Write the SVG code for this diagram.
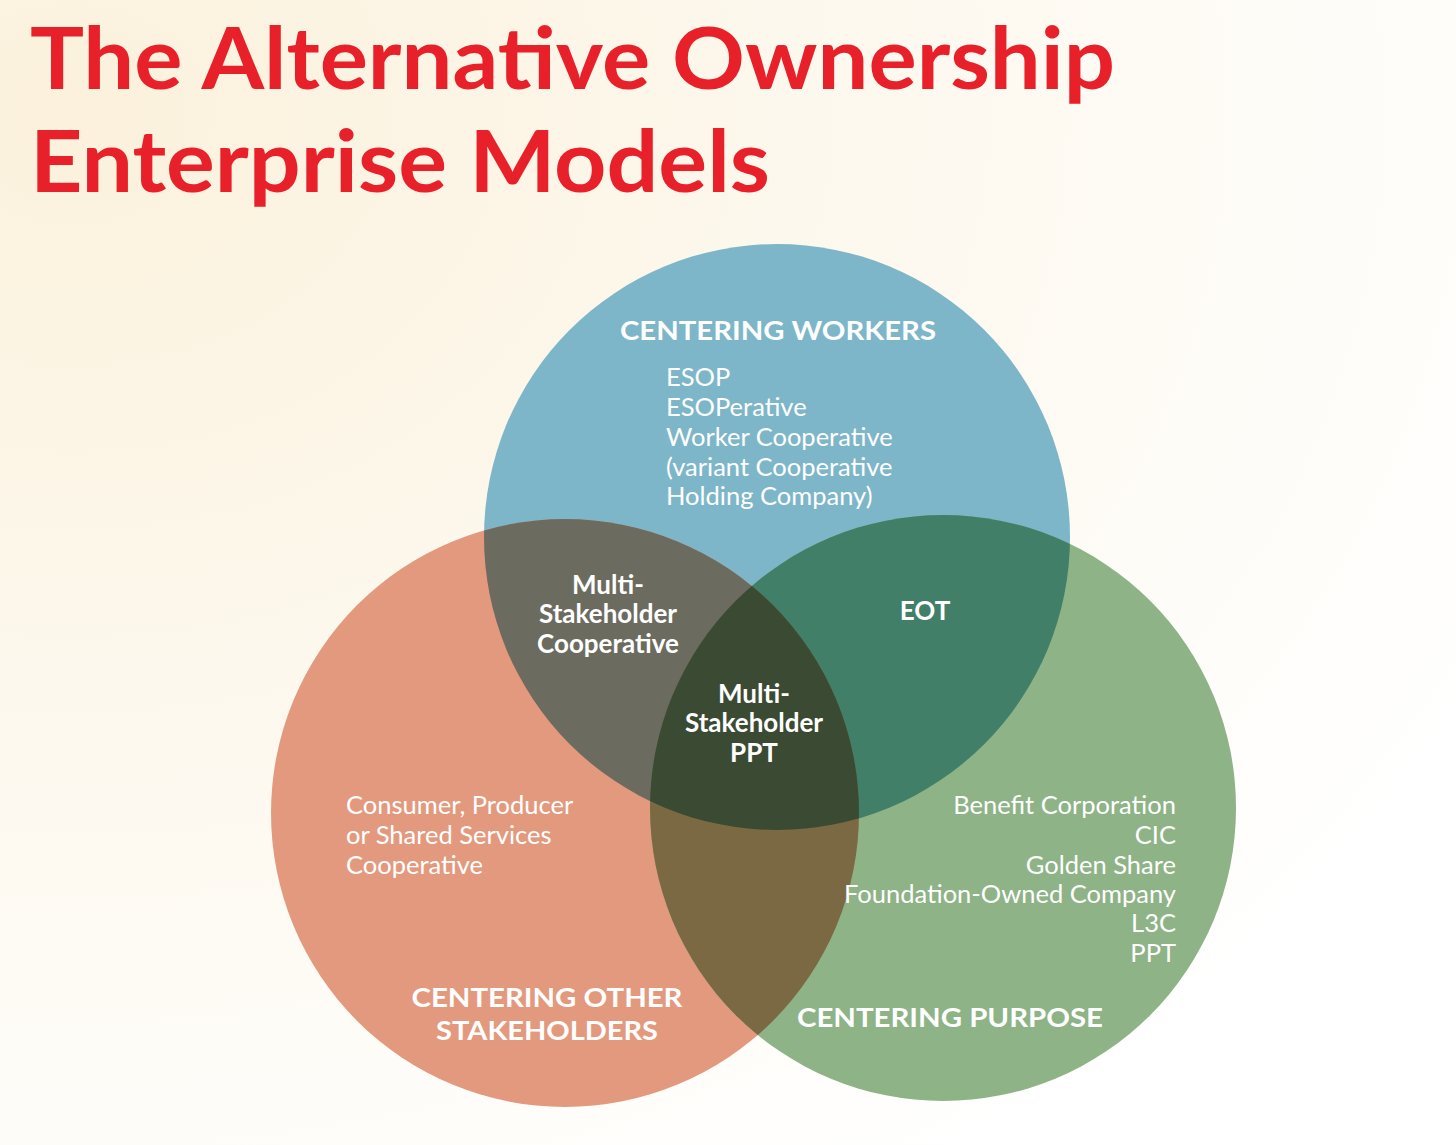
<svg xmlns="http://www.w3.org/2000/svg" width="1456" height="1145" viewBox="0 0 1456 1145">
<defs>
<radialGradient id="bg" cx="0.05" cy="0.1" r="1.1">
<stop offset="0" stop-color="#fbf1dc"/>
<stop offset="0.45" stop-color="#fdf8ed"/>
<stop offset="1" stop-color="#ffffff"/>
</radialGradient>
<clipPath id="cB"><circle cx="777" cy="537" r="293"/></clipPath>
<clipPath id="cO"><circle cx="565" cy="813" r="294"/></clipPath>
<clipPath id="cG"><circle cx="943" cy="808" r="293"/></clipPath>
<style>
.title{font-family:Lato,"Noto Sans",sans-serif;font-weight:bold;font-size:86px;fill:#e8202a}
.hd{font-family:Lato,"Noto Sans",sans-serif;font-weight:bold;font-size:27px;fill:#ffffff}
.it{font-family:Lato,"Noto Sans",sans-serif;font-size:25.5px;fill:#ffffff}
.ib{font-family:Lato,"Noto Sans",sans-serif;font-weight:bold;font-size:26px;fill:#ffffff}
.mid{text-anchor:middle}
.end{text-anchor:end}
</style>
</defs>
<rect width="1456" height="1145" fill="url(#bg)"/>
<g id="title">
<text class="title" x="30" y="89" textLength="1085" lengthAdjust="spacingAndGlyphs">The Alternative Ownership</text>
<text class="title" x="30" y="192" textLength="740" lengthAdjust="spacingAndGlyphs">Enterprise Models</text>
</g>
<g id="circles">
<circle id="workers" cx="777" cy="537" r="293" fill="#7db6c8"/>
<circle id="others" cx="565" cy="813" r="294" fill="#e3997e"/>
<circle id="purpose" cx="943" cy="808" r="293" fill="#8db386"/>
<g clip-path="url(#cB)">
<circle cx="565" cy="813" r="294" fill="#6c6b5f"/>
<circle cx="943" cy="808" r="293" fill="#427f68"/>
</g>
<g clip-path="url(#cO)">
<circle cx="943" cy="808" r="293" fill="#7b6943"/>
</g>
<g clip-path="url(#cO)">
<g clip-path="url(#cG)">
<circle cx="777" cy="537" r="293" fill="#3b4a33"/>
</g>
</g>
</g>
<g id="workers-text">
<text class="hd mid" x="778" y="340" textLength="316" lengthAdjust="spacingAndGlyphs">CENTERING WORKERS</text>
<text class="it" x="666" y="386">ESOP</text>
<text class="it" x="666" y="416">ESOPerative</text>
<text class="it" x="666" y="446">Worker Cooperative</text>
<text class="it" x="666" y="476">(variant Cooperative</text>
<text class="it" x="666" y="505">Holding Company)</text>
</g>
<g id="msc">
<text class="ib mid" x="608" y="594">Multi-</text>
<text class="ib mid" x="608" y="623">Stakeholder</text>
<text class="ib mid" x="608" y="653">Cooperative</text>
</g>
<g id="eot">
<text class="ib mid" x="925" y="620">EOT</text>
</g>
<g id="msppt">
<text class="ib mid" x="754" y="703">Multi-</text>
<text class="ib mid" x="754" y="732">Stakeholder</text>
<text class="ib mid" x="754" y="762">PPT</text>
</g>
<g id="others-text">
<text class="it" x="346" y="814">Consumer, Producer</text>
<text class="it" x="346" y="844">or Shared Services</text>
<text class="it" x="346" y="874">Cooperative</text>
<text class="hd mid" x="547" y="1007" textLength="271" lengthAdjust="spacingAndGlyphs">CENTERING OTHER</text>
<text class="hd mid" x="547" y="1040" textLength="222" lengthAdjust="spacingAndGlyphs">STAKEHOLDERS</text>
</g>
<g id="purpose-text">
<text class="it end" x="1176" y="814">Benefit Corporation</text>
<text class="it end" x="1176" y="844">CIC</text>
<text class="it end" x="1176" y="874">Golden Share</text>
<text class="it end" x="1176" y="903">Foundation-Owned Company</text>
<text class="it end" x="1176" y="932">L3C</text>
<text class="it end" x="1176" y="962">PPT</text>
<text class="hd mid" x="950" y="1027" textLength="306" lengthAdjust="spacingAndGlyphs">CENTERING PURPOSE</text>
</g>
</svg>
